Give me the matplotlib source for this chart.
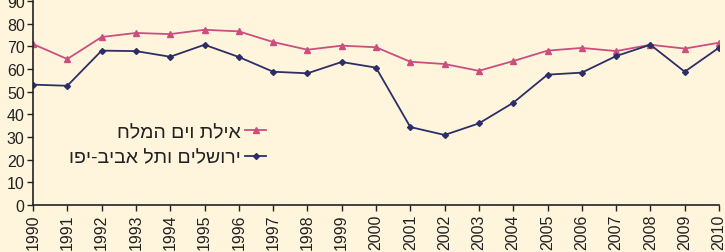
import matplotlib
matplotlib.use("Agg")
import matplotlib.pyplot as plt
import numpy as np

years = list(range(1990, 2011))
eilat_dead_sea = [71.0, 64.4, 74.1, 75.9, 75.4, 77.3, 76.6, 71.9, 68.5, 70.3, 69.6,
                  63.2, 62.2, 59.2, 63.5, 68.1, 69.3, 67.9, 70.7, 69.0, 71.6]
jerusalem_tlv = [53.1, 52.6, 68.1, 67.9, 65.4, 70.7, 65.3, 58.8, 58.1, 63.1, 60.6,
                 34.4, 30.9, 36.0, 45.1, 57.5, 58.4, 65.7, 70.7, 58.8, 69.4]
label_eilat = "אילת וים המלח"
label_jlm = "ירושלים ותל אביב-יפו"
yticks = list(range(0, 100, 10))

plt.rcParams['font.family'] = ['Liberation Sans', 'DejaVu Sans']

bg = '#FFF5DD'
pink = '#CC4E7E'
navy = '#2D2E68'

fig, ax = plt.subplots(figsize=(7.25, 2.53), dpi=100)
fig.patch.set_facecolor(bg)
fig.subplots_adjust(left=33/725, right=719/725, bottom=47/253, top=251/253)
ax.set_facecolor(bg)

ax.plot(years, eilat_dead_sea, color=pink, lw=1.3, marker='^', ms=4.5,
        label=label_eilat[::-1])
ax.plot(years, jerusalem_tlv, color=navy, lw=1.3, marker='D', ms=3,
        label=label_jlm[::-1])

ax.set_xlim(1990, 2010)
ax.set_ylim(0, 90)
ax.set_yticks(yticks)
ax.set_xticks(years)
plt.xticks(years, [str(y) for y in years], rotation='vertical', fontsize=11.5)
plt.yticks(yticks, fontsize=11.5)
ax.tick_params(axis='both', color='#222222', labelcolor='#222222',
               length=4, width=1, direction='out', pad=2)
for s in ['top', 'right']:
    ax.spines[s].set_visible(False)
for s in ['left', 'bottom']:
    ax.spines[s].set_color('#222222')
    ax.spines[s].set_linewidth(1.2)

leg = ax.legend(loc='center right', bbox_to_anchor=(276/725, 107/253),
                bbox_transform=fig.transFigure, frameon=False, markerfirst=False,
                fontsize=14, handlelength=1.1, handletextpad=0.2, borderpad=0,
                labelspacing=0.4)
for t in leg.get_texts():
    t.set_color('#222222')

plt.savefig('out.png', dpi=100, facecolor=bg)
